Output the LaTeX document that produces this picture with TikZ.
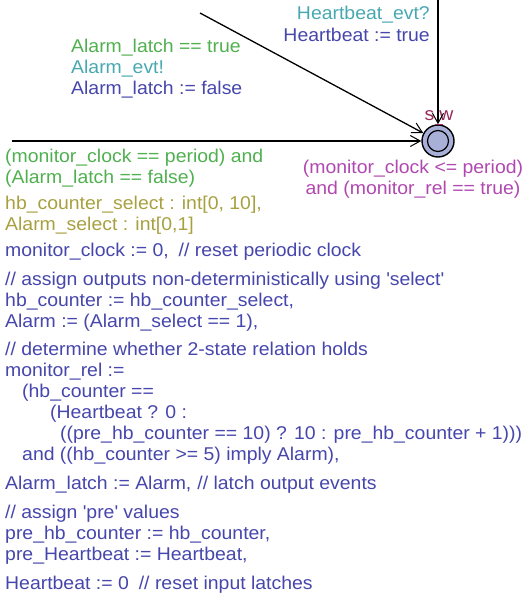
\documentclass[tikz,border=0pt]{standalone}
\usepackage{fontspec}
\setmainfont[FakeStretch=1.05]{Liberation Sans}
\usetikzlibrary{arrows.meta}
\definecolor{cgreen}{RGB}{80,176,80}
\definecolor{cteal}{RGB}{72,168,176}
\definecolor{cblue}{RGB}{70,70,172}
\definecolor{cmag}{RGB}{176,72,176}
\definecolor{colive}{RGB}{168,160,64}
\definecolor{cname}{RGB}{150,42,90}
\definecolor{cfill}{RGB}{168,176,216}
\tikzset{
  lbl/.style={anchor=base west, inner sep=0pt, font=\fontsize{18.5}{21}\selectfont},
  lblr/.style={lbl, anchor=base east},
  edge/.style={draw=black, line width=1.3pt, -{Straight Barb[length=10pt,width=11pt,line width=1pt]}},
  loc/.style={circle, draw=black, line width=1.4pt, fill=cfill, minimum size=32pt, inner sep=0pt},
}
\begin{document}
\begin{tikzpicture}[x=1pt,y=-1pt]
\useasboundingbox (0,0) rectangle (525,600);
% location
\node[loc] (sw) at (438,141) {};
\draw[line width=1.2pt] (sw.center) circle (10.5);
\node[lbl, text=cname] (swname) at (424.5,120) {s\hspace{5pt}w};
\draw[cname, line width=0.8pt] (435,124.5) -- (443,124.5);
% edges
\coordinate (topstart) at (438,0);
\coordinate (diagstart) at (200,13);
\coordinate (leftstart) at (12,141);
\draw[edge] (topstart) -- (sw);
\draw[edge] (diagstart) -- (sw);
\draw[edge] (leftstart) -- (sw);
% top edge labels
\node[lblr, text=cteal] (t1) at (430,19) {Heartbeat\_evt?};
\node[lblr, text=cblue] (t2) at (430,41) {Heartbeat := true};
% diagonal edge labels
\node[lbl, text=cgreen] (d1) at (71,52) {Alarm\_latch == true};
\node[lbl, text=cteal] (d2) at (71,73) {Alarm\_evt!};
\node[lbl, text=cblue] (d3) at (71,94) {Alarm\_latch := false};
% invariant
\node[lbl, text=cmag, anchor=base] (i1) at (413,173) {(monitor\_clock <= period)};
\node[lbl, text=cmag, anchor=base] (i2) at (413,194) {and (monitor\_rel == true)};
% left edge labels
\node[lbl, text=cgreen] (g1) at (5,162) {(monitor\_clock == period) and};
\node[lbl, text=cgreen] (g2) at (5,183) {(Alarm\_latch == false)};
\node[lbl, text=colive] (s1) at (5,209) {hb\_counter\_select : int[0, 10],};
\node[lbl, text=colive] (s2) at (5,230) {Alarm\_select : int[0,1]};
\node[lbl, text=cblue] (u1) at (5,256) {monitor\_clock := 0,\hspace{10pt}// reset periodic clock};
\node[lbl, text=cblue] (u2) at (5,285) {// assign outputs non-deterministically using \textquotesingle select\textquotesingle};
\node[lbl, text=cblue] (u3) at (5,306) {hb\_counter := hb\_counter\_select,};
\node[lbl, text=cblue] (u4) at (5,327) {Alarm := (Alarm\_select == 1),};
\node[lbl, text=cblue] (u5) at (5,355) {// determine whether 2-state relation holds};
\node[lbl, text=cblue] (u6) at (5,376) {monitor\_rel :=};
\node[lbl, text=cblue] (u7) at (22,397) {(hb\_counter ==};
\node[lbl, text=cblue] (u8) at (50,418) {(Heartbeat ? 0 :};
\node[lbl, text=cblue] (u9) at (60,439) {((pre\_hb\_counter == 10) ? 10 : pre\_hb\_counter + 1)))};
\node[lbl, text=cblue] (u10) at (22,460) {and ((hb\_counter >= 5) imply Alarm),};
\node[lbl, text=cblue] (u11) at (5,489) {Alarm\_latch := Alarm,\hspace{6pt}// latch output events};
\node[lbl, text=cblue] (u12) at (5,518) {// assign \textquotesingle pre\textquotesingle\ values};
\node[lbl, text=cblue] (u13) at (5,539) {pre\_hb\_counter := hb\_counter,};
\node[lbl, text=cblue] (u14) at (5,560) {pre\_Heartbeat := Heartbeat,};
\node[lbl, text=cblue] (u15) at (5,589) {Heartbeat := 0\hspace{10pt}// reset input latches};
\end{tikzpicture}
\end{document}
